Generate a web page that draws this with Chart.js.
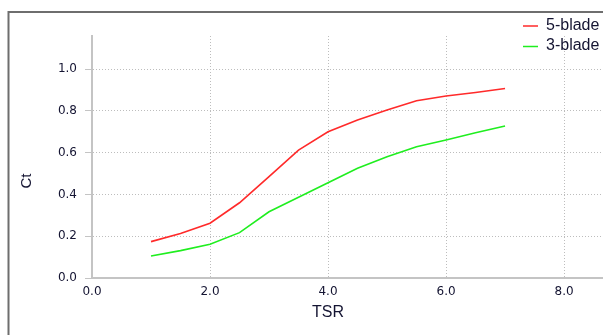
<!DOCTYPE html>
<html>
<head>
<meta charset="utf-8">
<script src="https://cdn.jsdelivr.net/npm/chart.js@4/dist/chart.umd.min.js"></script>
<style>
  html, body { margin: 0; padding: 0; background: #ffffff; }
  canvas { display: block; }
</style>
</head>
<body>
<canvas id="c" width="603" height="335"></canvas>
<script>
// ---- data ----
const tsr = [1.0, 1.5, 2.0, 2.5, 3.0, 3.5, 4.0, 4.5, 5.0, 5.5, 6.0, 6.5, 7.0];
const ct5blade = [0.174, 0.213, 0.262, 0.360, 0.485, 0.612, 0.700, 0.756, 0.804, 0.848, 0.871, 0.888, 0.907];
const ct3blade = [0.105, 0.131, 0.161, 0.217, 0.317, 0.386, 0.456, 0.525, 0.580, 0.628, 0.660, 0.695, 0.727];
const seriesLabels = ["5-blade", "3-blade"];
const xTitle = "TSR";
const yTitle = "Ct";

const textColor = "#141432";
const gridColor = "#bdbdbd";
const axisColor = "#c4c4c4";

function toPoints(xs, ys) { return xs.map((x, i) => ({ x: x, y: ys[i] })); }

const framePlugin = {
  id: "frame",
  beforeDraw(chart) {
    const ctx = chart.ctx;
    ctx.save();
    ctx.fillStyle = "#ffffff";
    ctx.fillRect(0, 0, chart.width, chart.height);
    ctx.strokeStyle = "#6e6e6e";
    ctx.lineWidth = 2;
    ctx.beginPath();
    ctx.moveTo(8.5, chart.height);
    ctx.lineTo(8.5, 12);
    ctx.lineTo(chart.width, 12);
    ctx.stroke();
    ctx.restore();
  }
};

const titlesPlugin = {
  id: "titles",
  afterDraw(chart) {
    const ctx = chart.ctx;
    const xs = chart.scales.x;
    ctx.save();
    ctx.fillStyle = textColor;
    ctx.textAlign = "center";
    ctx.textBaseline = "middle";
    ctx.font = "16px 'Liberation Sans', Arial, sans-serif";
    ctx.fillText(xTitle, (xs.getPixelForValue(0) + xs.getPixelForValue(8)) / 2, 313);
    ctx.translate(27, 181);
    ctx.rotate(-Math.PI / 2);
    ctx.font = "15px 'Liberation Sans', Arial, sans-serif";
    ctx.fillText(yTitle, 0, 0);
    ctx.restore();

    // legend
    ctx.save();
    ctx.font = "16px 'Liberation Sans', Arial, sans-serif";
    ctx.textBaseline = "middle";
    ctx.textAlign = "left";
    const rows = [25.5, 46];
    chart.data.datasets.forEach((ds, i) => {
      const y = rows[i];
      ctx.strokeStyle = ds.borderColor;
      ctx.lineWidth = 1.5;
      ctx.beginPath();
      ctx.moveTo(523, y + 0.5);
      ctx.lineTo(538, y + 0.5);
      ctx.stroke();
      ctx.fillStyle = textColor;
      ctx.fillText(ds.label, 546, y);
    });
    ctx.restore();
  }
};

new Chart(document.getElementById("c"), {
  type: "line",
  data: {
    datasets: [
      { label: seriesLabels[0], data: toPoints(tsr, ct5blade), borderColor: "#ff2a2a", borderWidth: 1.6, pointRadius: 0, tension: 0, fill: false },
      { label: seriesLabels[1], data: toPoints(tsr, ct3blade), borderColor: "#1fee1f", borderWidth: 1.6, pointRadius: 0, tension: 0, fill: false }
    ]
  },
  options: {
    responsive: false,
    animation: false,
    devicePixelRatio: 1,
    layout: { padding: { top: 36, left: 0, right: 0, bottom: 0 } },
    plugins: { legend: { display: false }, title: { display: false }, tooltip: { enabled: false } },
    scales: {
      x: {
        type: "linear",
        min: 0,
        max: 8.66,
        afterFit(scale) { scale.height = 57; },
        ticks: {
          stepSize: 2,
          includeBounds: false,
          autoSkip: false,
          maxRotation: 0,
          color: textColor,
          padding: 7,
          font: { family: "'DejaVu Sans', Verdana, sans-serif", size: 12 },
          callback: (v) => Number(v).toFixed(1)
        },
        grid: { color: gridColor, lineWidth: 1, drawTicks: false },
        border: { display: true, color: axisColor, width: 2, dash: [1, 2] }
      },
      y: {
        type: "linear",
        min: 0,
        max: 1.158,
        afterFit(scale) { scale.width = 92; },
        ticks: {
          stepSize: 0.2,
          includeBounds: false,
          color: textColor,
          padding: 8,
          font: { family: "'DejaVu Sans', Verdana, sans-serif", size: 12 },
          callback: (v) => Number(v).toFixed(1)
        },
        grid: { color: gridColor, lineWidth: 1, drawTicks: true, tickLength: 7, tickColor: axisColor, tickBorderDash: [] },
        border: { display: true, color: axisColor, width: 2, dash: [1, 2] }
      }
    }
  },
  plugins: [framePlugin, titlesPlugin]
});
</script>
</body>
</html>
